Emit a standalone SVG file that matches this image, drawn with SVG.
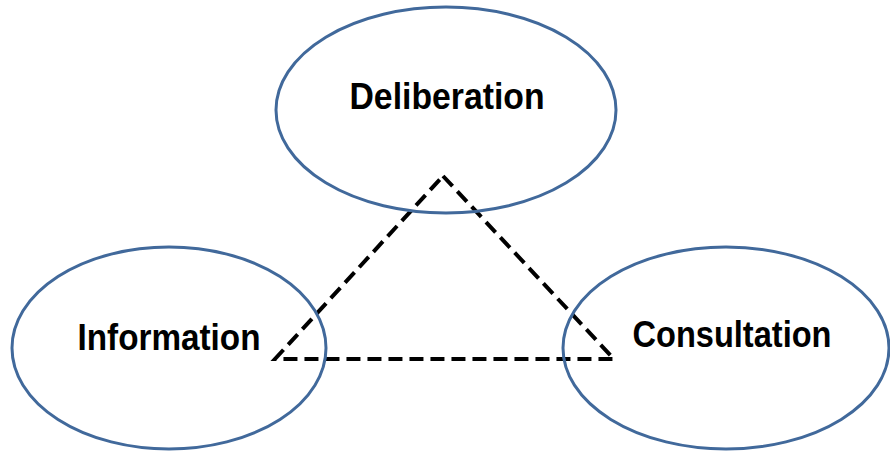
<svg xmlns="http://www.w3.org/2000/svg" width="890" height="453" viewBox="0 0 890 453">
<style>
.node ellipse{fill:none;stroke:#41699B;stroke-width:3}
.lbl{font-family:"Liberation Sans",Arial,sans-serif;font-weight:bold;font-size:37px;fill:#000;text-anchor:middle}
.tri{fill:none;stroke:#000;stroke-width:4;stroke-dasharray:14 7}
</style>
<rect width="890" height="453" fill="#fff"/>
<g id="connectors">
<path class="tri" d="M443,176 L614,359 L275,359 Z"/>
</g>
<g id="deliberation" class="node">
<ellipse cx="446" cy="110" rx="170" ry="103"/>
<text class="lbl" x="447" y="109" textLength="195" lengthAdjust="spacingAndGlyphs">Deliberation</text>
</g>
<g id="information" class="node">
<ellipse cx="169" cy="348" rx="157" ry="101"/>
<text class="lbl" x="169" y="350" textLength="183" lengthAdjust="spacingAndGlyphs">Information</text>
</g>
<g id="consultation" class="node">
<ellipse cx="726" cy="348" rx="163" ry="101"/>
<text class="lbl" x="732" y="347" textLength="199" lengthAdjust="spacingAndGlyphs">Consultation</text>
</g>
</svg>
